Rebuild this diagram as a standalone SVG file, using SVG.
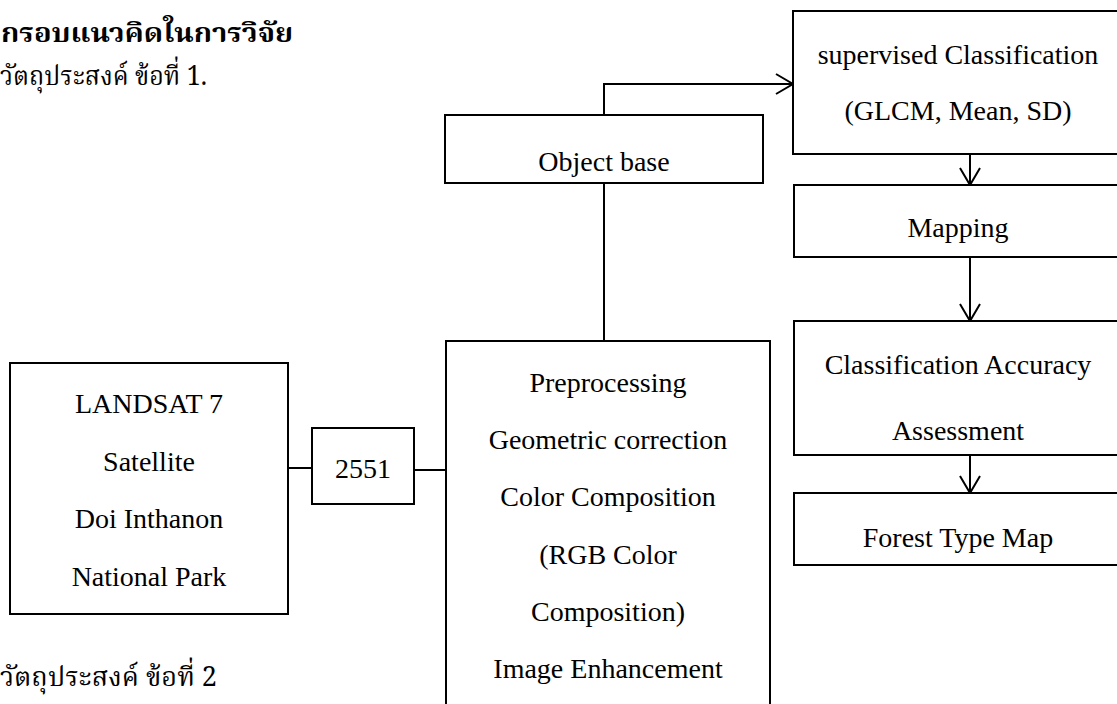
<svg xmlns="http://www.w3.org/2000/svg" width="1117" height="704" viewBox="0 0 1117 704">
<style>
.box{fill:#fff;stroke:#000;stroke-width:2}
.t{font-family:"Liberation Serif","Times New Roman",serif;font-size:28px;fill:#000;text-anchor:middle}
.th{font-family:"Noto Serif Thai","Noto Sans Thai","Liberation Serif",serif;font-size:27px;fill:#000}
.c{fill:none;stroke:#000;stroke-width:2}
</style>
<defs>
<marker id="arr" markerUnits="userSpaceOnUse" markerWidth="22" markerHeight="26" viewBox="-19 -13 22 26" refX="0" refY="0" orient="auto">
<path d="M-17,-10 L0,0 L-17,10" fill="none" stroke="#000" stroke-width="2"/>
</marker>
</defs>
<rect width="1117" height="704" fill="#fff"/>
<g id="headings">
<text class="th" x="1" y="42" font-weight="bold" font-size="29" textLength="292" lengthAdjust="spacingAndGlyphs">กรอบแนวคิดในการวิจัย</text>
<text class="th" x="0" y="85" textLength="207" lengthAdjust="spacingAndGlyphs">วัตถุประสงค์ ข้อที่ 1.</text>
<text class="th" x="0" y="686" textLength="217" lengthAdjust="spacingAndGlyphs">วัตถุประสงค์ ข้อที่ 2</text>
</g>
<g id="connectors">
<line class="c" x1="288" y1="468" x2="312" y2="468"/>
<line class="c" x1="414" y1="470" x2="446" y2="470"/>
<line class="c" x1="604" y1="341" x2="604" y2="183"/>
<polyline class="c" points="604,115 604,84 793,84" marker-end="url(#arr)"/>
<line class="c" x1="970" y1="155" x2="970" y2="185" marker-end="url(#arr)"/>
<line class="c" x1="970" y1="257" x2="970" y2="321" marker-end="url(#arr)"/>
<line class="c" x1="970" y1="455" x2="970" y2="493" marker-end="url(#arr)"/>
</g>
<g id="landsat">
<rect class="box" x="10" y="363" width="278" height="251"/>
<text class="t" x="149" y="413">LANDSAT 7</text>
<text class="t" x="149" y="471">Satellite</text>
<text class="t" x="149" y="528">Doi Inthanon</text>
<text class="t" x="149" y="586">National Park</text>
</g>
<g id="year">
<rect class="box" x="312" y="428" width="102" height="76"/>
<text class="t" x="363" y="478">2551</text>
</g>
<g id="preprocessing">
<rect class="box" x="446" y="341" width="324" height="380"/>
<text class="t" x="608" y="392">Preprocessing</text>
<text class="t" x="608" y="449">Geometric correction</text>
<text class="t" x="608" y="506">Color Composition</text>
<text class="t" x="608" y="564">(RGB Color</text>
<text class="t" x="608" y="621">Composition)</text>
<text class="t" x="608" y="678">Image Enhancement</text>
</g>
<g id="object-base">
<rect class="box" x="445" y="115" width="318" height="68"/>
<text class="t" x="604" y="171">Object base</text>
</g>
<g id="supervised">
<rect class="box" x="793" y="11" width="340" height="143"/>
<text class="t" x="958" y="64">supervised Classification</text>
<text class="t" x="958" y="120">(GLCM, Mean, SD)</text>
</g>
<g id="mapping">
<rect class="box" x="794" y="185" width="340" height="72"/>
<text class="t" x="958" y="237">Mapping</text>
</g>
<g id="accuracy">
<rect class="box" x="794" y="321" width="340" height="134"/>
<text class="t" x="958" y="374">Classification Accuracy</text>
<text class="t" x="958" y="440">Assessment</text>
</g>
<g id="forest-map">
<rect class="box" x="794" y="493" width="340" height="72"/>
<text class="t" x="958" y="547">Forest Type Map</text>
</g>
</svg>
